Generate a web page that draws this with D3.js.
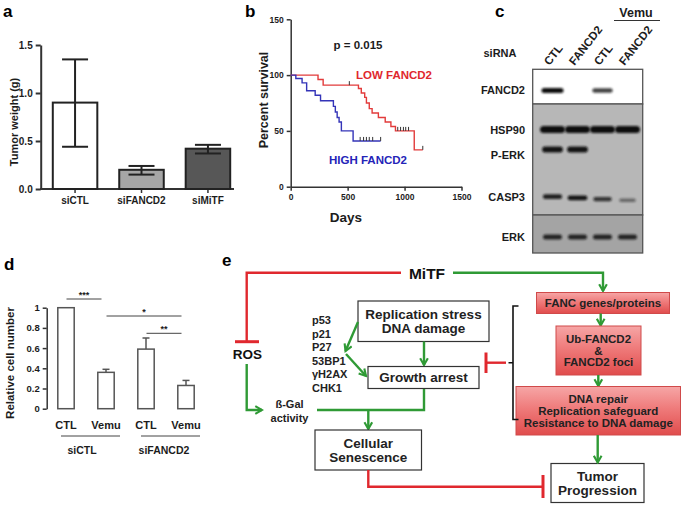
<!DOCTYPE html>
<html><head><meta charset="utf-8">
<script src="https://cdn.jsdelivr.net/npm/d3@7"></script>
<style>
body{margin:0;background:#fff;}
svg{font-family:"Liberation Sans",Arial,Helvetica,sans-serif;font-weight:bold;}
</style></head><body>
<svg id="fig" width="685" height="507"></svg>
<script>
// ---------- Panel a data ----------
const tumorCategories = ["siCTL", "siFANCD2", "siMiTF"];
const tumorWeight = [0.90, 0.20, 0.42];
const tumorErrLow = [0.44, 0.15, 0.37];
const tumorErrHigh = [1.35, 0.24, 0.46];
const tumorTicks = [0, 0.5, 1.0, 1.5];
const tumorFills = ["#ffffff", "#a6a6a6", "#575757"];

// ---------- Panel b data (Kaplan-Meier steps: [day, percent]) ----------
const lowSurvival = [[0,100],[240,96],[285,91],[595,88],[620,84],[650,80],[665,75],[690,70],[715,66],[770,62],[830,58],[880,54],[920,50],[1085,33],[1160,33]];
const lowCensored = [[515,91],[940,50],[965,50],[990,50],[1010,50],[1035,50],[1160,33]];
const highSurvival = [[0,100],[45,97],[100,93],[140,86],[215,82],[262,77],[375,72],[392,67],[408,62],[425,58],[445,50],[548,41],[790,41]];
const highCensored = [[610,41],[640,41],[665,41],[690,41],[720,41],[790,41]];
const survivalTicksX = [0, 500, 1000, 1500];
const survivalTicksY = [0, 50, 100, 150];

// ---------- Panel c data (western blot) ----------
const blotLanes = ["CTL", "FANCD2", "CTL", "FANCD2"];
const blotProteins = ["FANCD2", "HSP90", "P-ERK", "CASP3", "ERK"];
const fancd2Bands = [1.0, 0.0, 0.7, 0.0];
const hsp90Bands = [1.0, 1.0, 1.0, 1.0];
const perkBands = [0.95, 0.95, 0.0, 0.0];
const casp3Bands = [0.85, 0.95, 0.7, 0.3];
const erkBands = [0.8, 0.8, 0.8, 0.8];

// ---------- Panel d data ----------
const cellCategories = ["CTL", "Vemu", "CTL", "Vemu"];
const cellGroups = ["siCTL", "siFANCD2"];
const cellValues = [1.0, 0.36, 0.59, 0.23];
const cellErr = [1.0, 0.39, 0.70, 0.28];
const cellTicks = [0, 0.2, 0.4, 0.6, 0.8, 1];
const cellComparisons = [[0, 1, "***"], [1, 3, "*"], [2, 3, "**"]];

const svg = d3.select("#fig");
const DARK = "#1c1c1c";

function label(txt, x, y, size, anchor, color) {
  return svg.append("text").attr("x", x).attr("y", y).attr("font-size", size)
    .attr("text-anchor", anchor || "middle").attr("fill", color || DARK).text(txt);
}

// panel letters
label("a", 3, 17, 17, "start", "#000");
label("b", 245, 17, 17, "start", "#000");
label("c", 495, 17, 17, "start", "#000");
label("d", 4, 270, 17, "start", "#000");
label("e", 222, 266, 17, "start", "#000");

// ================= Panel a =================
{
  const g = svg.append("g");
  const y = d3.scaleLinear().domain([0, 1.5]).range([189, 45]);
  const x = d3.scaleBand().domain(tumorCategories).range([41.5, 241.5]).paddingInner(0.33).paddingOuter(0.17);
  const ax = g.append("g").attr("transform", "translate(40.7,0)")
    .call(d3.axisLeft(y).tickValues(tumorTicks).tickFormat(d3.format(".1f")).tickSize(5).tickSizeOuter(0));
  ax.select(".domain").attr("stroke", "#333").attr("stroke-width", 2);
  ax.selectAll(".tick line").attr("stroke", "#333").attr("stroke-width", 2);
  ax.selectAll(".tick text").attr("font-size", 10).attr("font-weight", "bold").attr("fill", DARK).attr("font-family", "Liberation Sans, Arial");
  g.append("line").attr("x1", 40).attr("x2", 234).attr("y1", y(0)).attr("y2", y(0)).attr("stroke", "#333").attr("stroke-width", 2);
  tumorCategories.forEach((c, i) => {
    const cx = x(c) + x.bandwidth() / 2;
    g.append("line").attr("x1", cx).attr("x2", cx).attr("y1", y(0)).attr("y2", y(0) + 4).attr("stroke", "#333").attr("stroke-width", 1.5);
    g.append("rect").attr("x", x(c)).attr("y", y(tumorWeight[i])).attr("width", x.bandwidth())
      .attr("height", y(0) - y(tumorWeight[i])).attr("fill", tumorFills[i]).attr("stroke", "#222").attr("stroke-width", 2);
    g.append("line").attr("x1", cx).attr("x2", cx).attr("y1", y(tumorErrLow[i])).attr("y2", y(tumorErrHigh[i])).attr("stroke", "#222").attr("stroke-width", 2);
    [tumorErrLow[i], tumorErrHigh[i]].forEach(v => g.append("line").attr("x1", cx - 13).attr("x2", cx + 13).attr("y1", y(v)).attr("y2", y(v)).attr("stroke", "#222").attr("stroke-width", 2));
    label(c, cx, 204, 10);
  });
  label("Tumor weight (g)", 0, 0, 11).attr("transform", "translate(17.5,122) rotate(-90)");
}

// ================= Panel b =================
{
  const g = svg.append("g");
  const x = d3.scaleLinear().domain([0, 1500]).range([290.7, 461.5]);
  const y = d3.scaleLinear().domain([0, 150]).range([186.7, 19.3]);
  const ay = g.append("g").attr("transform", "translate(290.7,0)")
    .call(d3.axisLeft(y).tickValues(survivalTicksY).tickFormat(d3.format("d")).tickSize(4).tickSizeOuter(0));
  const axx = g.append("g").attr("transform", "translate(0,186.7)")
    .call(d3.axisBottom(x).tickValues(survivalTicksX).tickFormat(d3.format("d")).tickSize(4).tickSizeOuter(0));
  [ay, axx].forEach(a => {
    a.select(".domain").attr("stroke", "#333").attr("stroke-width", 1.5);
    a.selectAll(".tick line").attr("stroke", "#333").attr("stroke-width", 1.5);
    a.selectAll(".tick text").attr("font-size", 8.5).attr("fill", DARK).attr("font-weight", "bold")
      .attr("font-family", "Liberation Sans Narrow, Liberation Sans, Arial");
  });
  const line = d3.line().x(d => x(d[0])).y(d => y(d[1])).curve(d3.curveStepAfter);
  g.append("path").attr("d", line(lowSurvival)).attr("fill", "none").attr("stroke", "#e23b3b").attr("stroke-width", 1.4);
  g.append("path").attr("d", line(highSurvival)).attr("fill", "none").attr("stroke", "#3434b8").attr("stroke-width", 1.4);
  lowCensored.concat(highCensored).forEach(d => {
    g.append("line").attr("x1", x(d[0])).attr("x2", x(d[0])).attr("y1", y(d[1]) - 4).attr("y2", y(d[1])).attr("stroke", "#333").attr("stroke-width", 1);
  });
  label("p = 0.015", 358, 49, 11.5);
  label("LOW FANCD2", 394, 79, 11.5, "middle", "#e0282e");
  label("HIGH FANCD2", 368, 164, 11.5, "middle", "#2424b8");
  label("Days", 346, 222, 13.5);
  label("Percent survival", 0, 0, 12.5).attr("transform", "translate(268,100) rotate(-90)");
}

// ================= Panel c =================
{
  const g = svg.append("g");
  const defs = svg.append("defs");
  defs.append("filter").attr("id", "blur").attr("x", "-30%").attr("y", "-100%").attr("width", "160%").attr("height", "300%")
    .append("feGaussianBlur").attr("stdDeviation", 0.9);
  const lanes = d3.scaleBand().domain(d3.range(blotLanes.length)).range([540, 640]);
  const L = 532.7, R = 642.7;
  g.append("rect").attr("x", L).attr("y", 69.3).attr("width", R - L).attr("height", 34.7).attr("fill", "#fff").attr("stroke", "#555").attr("stroke-width", 1.3);
  g.append("rect").attr("x", L).attr("y", 104).attr("width", R - L).attr("height", 111).attr("fill", "#b7b7b7").attr("stroke", "#555").attr("stroke-width", 1.3);
  g.append("rect").attr("x", L).attr("y", 215).attr("width", R - L).attr("height", 38).attr("fill", "#a4a4a4").attr("stroke", "#555").attr("stroke-width", 1.3);
  const rows = [
    {name: "FANCD2", vals: fancd2Bands, y: 90.5, w: 22, h: 5, ly: 94},
    {name: "HSP90", vals: hsp90Bands, y: 129.5, w: 25, h: 7, ly: 133.5},
    {name: "P-ERK", vals: perkBands, y: 149.5, w: 21, h: 6, ly: 159},
    {name: "CASP3", vals: casp3Bands, y: 198.5, w: 20, h: 5, ly: 200.5},
    {name: "ERK", vals: erkBands, y: 237, w: 20, h: 5.5, ly: 241}
  ];
  rows.forEach(r => {
    label(r.name, 525, r.ly, 11, "end");
    r.vals.forEach((v, i) => {
      if (v <= 0) return;
      const cx = lanes(i) + lanes.bandwidth() / 2;
      const w = r.w * (0.75 + 0.25 * v), h = r.h * (0.6 + 0.4 * v);
      g.append("rect").attr("x", cx - w / 2).attr("y", r.y - h / 2 + (r.name === "CASP3" ? (i - 1.5) * 1.2 : 0))
        .attr("width", w).attr("height", h).attr("rx", h / 2)
        .attr("fill", "#111").attr("opacity", 0.25 + 0.75 * v).attr("filter", "url(#blur)");
    });
  });
  label("siRNA", 500, 57, 11);
  blotLanes.forEach((n, i) => {
    const cx = lanes(i) + lanes.bandwidth() / 2;
    label(n, 0, 0, 11.5, "start").attr("transform", `translate(${cx - 3},66) rotate(-52)`);
  });
  label("Vemu", 636, 16.5, 12.5);
  g.append("line").attr("x1", 614).attr("x2", 660).attr("y1", 20.5).attr("y2", 20.5).attr("stroke", "#333").attr("stroke-width", 1);
}

// ================= Panel d =================
{
  const g = svg.append("g");
  const y = d3.scaleLinear().domain([0, 1]).range([408.7, 307.7]);
  const x = d3.scaleBand().domain(d3.range(cellValues.length)).range([46, 206]).paddingInner(0.59).paddingOuter(0.295);
  const ay = g.append("g").attr("transform", "translate(46.7,0)")
    .call(d3.axisLeft(y).tickValues(cellTicks).tickFormat(d => d === 0 || d === 1 ? d : d3.format(".1f")(d)).tickSize(4).tickSizeOuter(0));
  ay.select(".domain").attr("stroke", "#333").attr("stroke-width", 1.5);
  ay.selectAll(".tick line").attr("stroke", "#333").attr("stroke-width", 1.5);
  ay.selectAll(".tick text").attr("font-size", 9.5).attr("fill", DARK).attr("font-weight", "bold").attr("font-family", "Liberation Sans, Arial");
  const cx = i => x(i) + x.bandwidth() / 2;
  cellValues.forEach((v, i) => {
    g.append("rect").attr("x", x(i)).attr("y", y(v)).attr("width", x.bandwidth()).attr("height", y(0) - y(v))
      .attr("fill", "#fff").attr("stroke", "#555").attr("stroke-width", 1.5);
    if (cellErr[i] > v) {
      g.append("line").attr("x1", cx(i)).attr("x2", cx(i)).attr("y1", y(v)).attr("y2", y(cellErr[i])).attr("stroke", "#555").attr("stroke-width", 1.5);
      g.append("line").attr("x1", cx(i) - 3.5).attr("x2", cx(i) + 3.5).attr("y1", y(cellErr[i])).attr("y2", y(cellErr[i])).attr("stroke", "#555").attr("stroke-width", 1.5);
    }
    label(cellCategories[i], cx(i), 429, 11);
  });
  cellGroups.forEach((gname, k) => {
    const x1 = cx(2 * k) - 5, x2 = cx(2 * k + 1) + 14;
    g.append("line").attr("x1", x1).attr("x2", x2).attr("y1", 436).attr("y2", 436).attr("stroke", "#444").attr("stroke-width", 1);
    label(gname, (cx(2 * k) + cx(2 * k + 1)) / 2 - 4 + 2 * k, 454, 10.5);
  });
  const levels = [299, 316, 333.3];
  cellComparisons.forEach((c, k) => {
    const x1 = cx(c[0]) + 0.5, x2 = cx(c[1]) - 4.5;
    g.append("line").attr("x1", x1).attr("x2", x2).attr("y1", levels[k]).attr("y2", levels[k]).attr("stroke", "#444").attr("stroke-width", 1);
    label(c[2], (x1 + x2) / 2, levels[k] - 1, 9);
  });
  label("Relative cell number", 0, 0, 11.5).attr("transform", "translate(14,363) rotate(-90)");
}

// ================= Panel e =================
{
  const g = svg.append("g");
  const GREEN = "#2f9a35", RED = "#e0282e";
  const defs = svg.select("defs");
  defs.append("marker").attr("id", "arrG").attr("viewBox", "0 0 10 10").attr("refX", 8).attr("refY", 5)
    .attr("markerWidth", 4).attr("markerHeight", 4).attr("orient", "auto-start-reverse").attr("markerUnits", "strokeWidth")
    .append("path").attr("d", "M1,1 L8,5 L1,9").attr("fill", "none").attr("stroke", GREEN).attr("stroke-width", 2.2);
  const grad = defs.append("linearGradient").attr("id", "redGrad").attr("x1", 0).attr("x2", 0).attr("y1", 0).attr("y2", 1);
  grad.append("stop").attr("offset", "0%").attr("stop-color", "#f6a6a6");
  grad.append("stop").attr("offset", "45%").attr("stop-color", "#ef7b7b");
  grad.append("stop").attr("offset", "100%").attr("stop-color", "#e04c4c");

  const path = (d, color, arrow) => {
    const p = g.append("path").attr("d", d).attr("fill", "none").attr("stroke", color).attr("stroke-width", 2.4);
    if (arrow) p.attr("marker-end", "url(#arrG)");
    return p;
  };
  const box = (x, y, w, h, lines, size, red) => {
    g.append("rect").attr("x", x).attr("y", y).attr("width", w).attr("height", h)
      .attr("fill", red ? "url(#redGrad)" : "#fff").attr("stroke", red ? "#d04a4a" : "#333").attr("stroke-width", red ? 1 : 1.2);
    const n = lines.length, lh = size * 1.03;
    lines.forEach((t, i) => label(t, x + w / 2, y + h / 2 + (i - (n - 1) / 2) * lh + size * 0.36, size, "middle", "#222"));
  };

  // MiTF
  label("MiTF", 427, 278.5, 15.5, "middle", "#111");
  // red inhibition MiTF -> ROS
  path("M401,272.7 H246.7 V341.7", RED);
  path("M235,341.7 H259", RED).attr("stroke-width", 3);
  label("ROS", 247.5, 358.5, 13.5, "middle", "#111");
  // ROS -> ß-Gal
  path("M246.7,364 V410 H262", GREEN, true);
  label("ß-Gal", 289.5, 408, 11, "middle", "#222");
  label("activity", 289.5, 421.5, 11, "middle", "#222");
  // Replication box
  box(358, 301, 131, 40.5, ["Replication stress", "DNA damage"], 13.5);
  path("M424,341.5 V365", GREEN, true);
  box(368, 366.5, 111, 22, ["Growth arrest"], 13.5);
  ["p53", "p21", "P27", "53BP1", "γH2AX", "CHK1"].forEach((t, i) => label(t, 312, 324 + i * 13.6, 11, "start", "#222"));
  path("M358,322 L345.5,351", GREEN, true);
  path("M346,354 L366,376", GREEN, true);
  // to senescence
  path("M317,410 H424 V389", GREEN);
  path("M368.3,410 V429", GREEN, true);
  box(315, 430, 106.5, 40, ["Cellular", "Senescence"], 13.5);
  // red senescence -| tumor
  path("M368.3,470 V486.7 H543", RED);
  path("M543,475 V498", RED).attr("stroke-width", 3);
  box(551, 463.5, 93, 39, ["Tumor", "Progression"], 13.5);
  // MiTF -> FANC
  path("M453,272.7 H603 V291", GREEN, true);
  box(536.5, 292.5, 133, 21, ["FANC genes/proteins"], 11.5, true);
  path("M600.7,313.5 V325.5", GREEN, true);
  box(556, 326, 85, 49, ["Ub-FANCD2", "&", "FANCD2 foci"], 11.5, true);
  path("M598.3,375 V386", GREEN, true);
  box(516, 386.5, 164.5, 48.5, ["DNA repair", "Replication safeguard", "Resistance to DNA damage"], 11.5, true);
  path("M597.7,435 V462.5", GREEN, true);
  // bracket
  g.append("path").attr("d", "M518.5,306 H513 V419.5 H518.5 M513,362.7 H508.5").attr("fill", "none").attr("stroke", "#111").attr("stroke-width", 1.6);
  path("M506,362.7 H487", RED);
  path("M486,352.5 V373", RED).attr("stroke-width", 3);
}
</script>
</body></html>
